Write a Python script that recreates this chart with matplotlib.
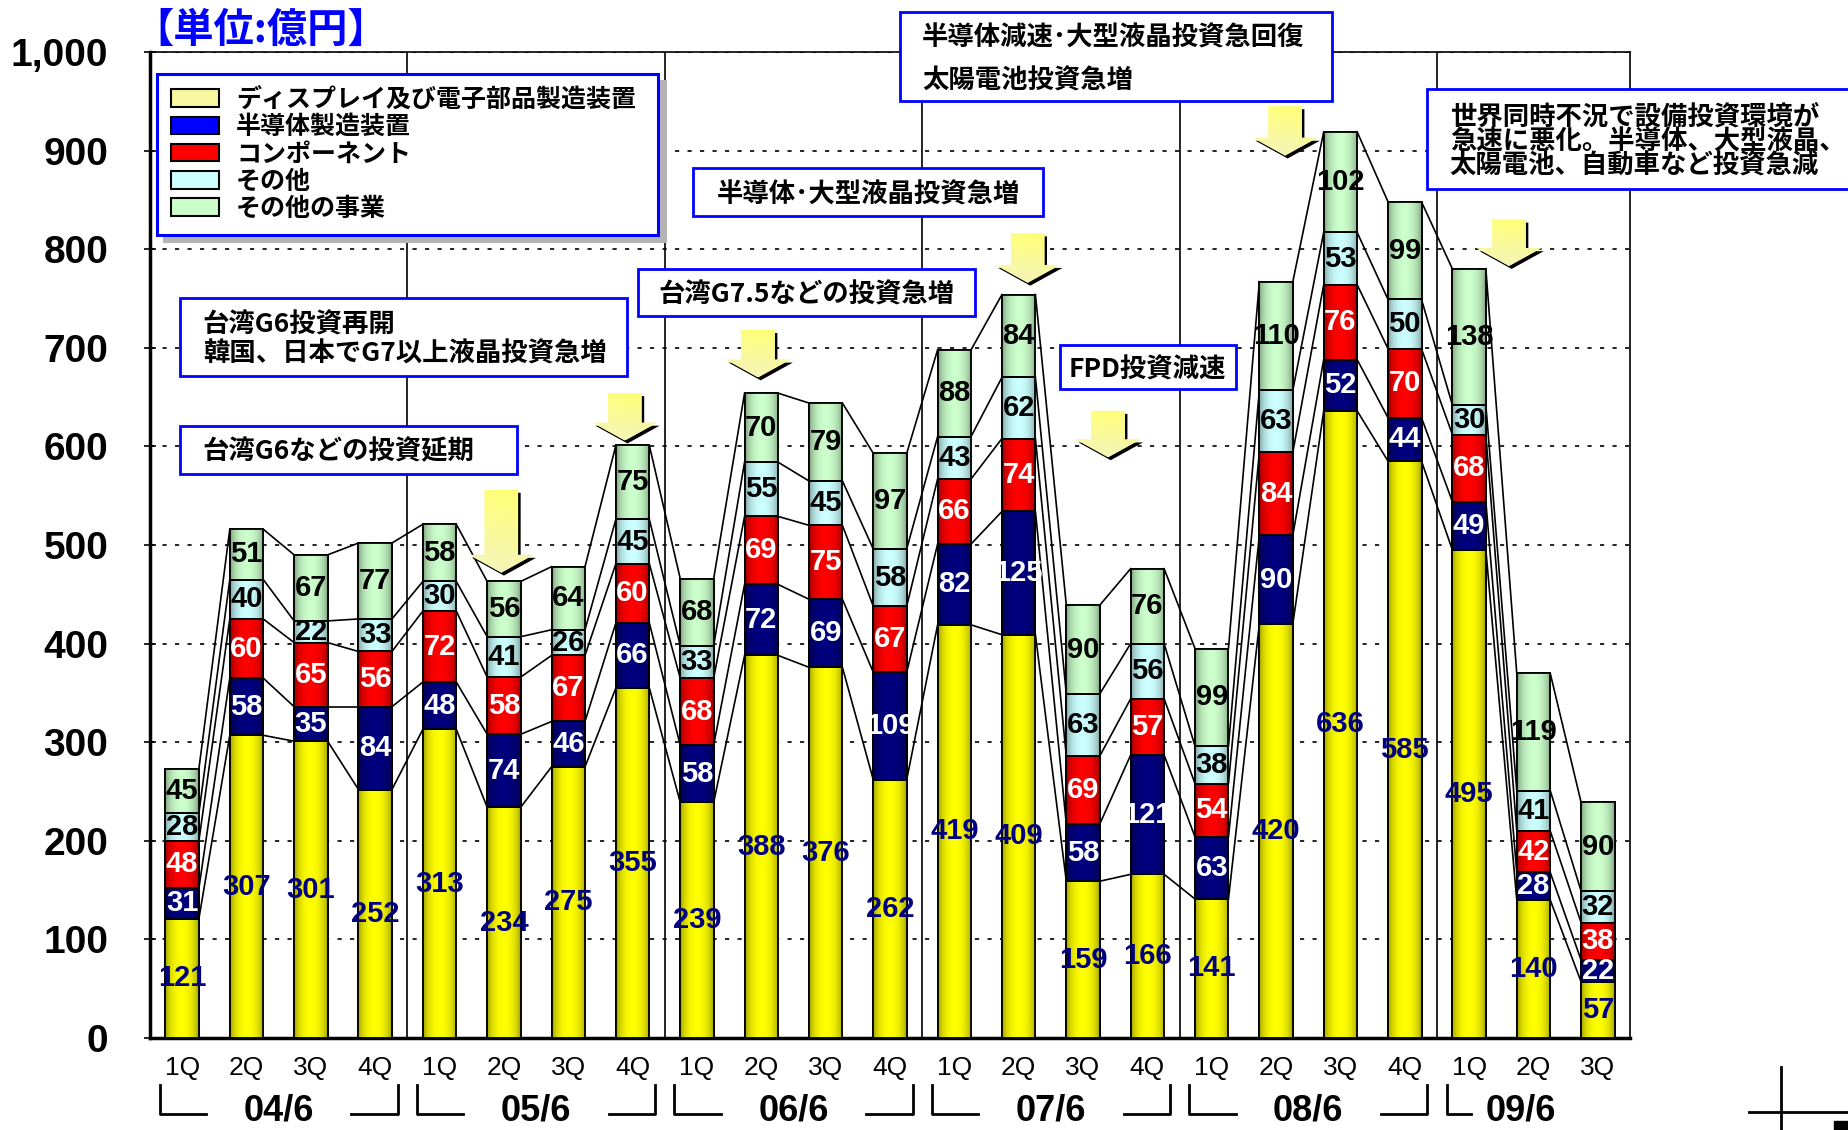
import numpy as np
import matplotlib
matplotlib.use('Agg')
import matplotlib.pyplot as plt
from matplotlib.colors import to_rgb
from matplotlib.patches import Patch, Polygon, Rectangle
from matplotlib.lines import Line2D

plt.rcParams['font.family'] = ['Liberation Sans', 'Noto Sans CJK JP', 'DejaVu Sans']
JP = ['Noto Sans CJK JP', 'DejaVu Sans']

# ---- data (億円) ----
quarters = ['1Q', '2Q', '3Q', '4Q'] * 5 + ['1Q', '2Q', '3Q']
years = ['04/6', '05/6', '06/6', '07/6', '08/6', '09/6']
year_sizes = [4, 4, 4, 4, 4, 3]

display = [121, 307, 301, 252, 313, 234, 275, 355, 239, 388, 376, 262,
           419, 409, 159, 166, 141, 420, 636, 585, 495, 140, 57]
semi = [31, 58, 35, 84, 48, 74, 46, 66, 58, 72, 69, 109,
        82, 125, 58, 121, 63, 90, 52, 44, 49, 28, 22]
component = [48, 60, 65, 56, 72, 58, 67, 60, 68, 69, 75, 67,
             66, 74, 69, 57, 54, 84, 76, 70, 68, 42, 38]
other = [28, 40, 22, 33, 30, 41, 26, 45, 33, 55, 45, 58,
         43, 62, 63, 56, 38, 63, 53, 50, 30, 41, 32]
other_biz = [45, 51, 67, 77, 58, 56, 64, 75, 68, 70, 79, 97,
             88, 84, 90, 76, 99, 110, 102, 99, 138, 119, 90]

series = [display, semi, component, other, other_biz]
names = ['ディスプレイ及び電子部品製造装置', '半導体製造装置', 'コンポーネント', 'その他', 'その他の事業']
colors = ['#ffff00', '#000080', '#ff0000', '#ccffff', '#ccffcc']
legend_colors = ['#f8f8a0', '#0000ff', '#ff0000', '#ccffff', '#ccffcc']
text_colors = ['#000080', 'white', 'white', 'black', 'black']

fig = plt.figure(figsize=(18.49, 11.30), dpi=100)
ax = fig.add_axes([150 / 1849, 1 - 1038 / 1130, 1480 / 1849, 986 / 1130])

x = np.arange(len(quarters))
w = 0.52
prof = 0.55 + 0.45 * np.sin(np.linspace(0, np.pi, 48)) ** 0.5


def shade_bar(patch, color):
    rgb = np.array(to_rgb(color))
    img = (prof[:, None] * rgb)[None, :, :]
    x0, y0 = patch.get_xy()
    im = ax.imshow(img, extent=[x0, x0 + patch.get_width(), y0, y0 + patch.get_height()],
                   aspect='auto', interpolation='bilinear', zorder=3.1)
    im.set_clip_path(patch)
    ax.add_patch(Rectangle((x0, y0), patch.get_width(), patch.get_height(), fill=False,
                           ec='black', lw=1.3, zorder=3.2))


bottom = np.zeros(len(x))
tops = []
for vals, col, tcol in zip(series, colors, text_colors):
    vals = np.array(vals)
    bars = ax.bar(x, vals, w, bottom=bottom, color=col, edgecolor='black', lw=1.3, zorder=3)
    for b in bars:
        shade_bar(b, col)
    for xi, v, b0 in zip(x, vals, bottom):
        ax.text(xi, b0 + v / 2, str(v), ha='center', va='center', fontsize=21,
                fontweight='bold', color=tcol, zorder=5)
    bottom = bottom + vals
    tops.append(bottom.copy())

# series lines between bars
for top in tops:
    for i in range(len(x) - 1):
        ax.plot([x[i] + w / 2, x[i + 1] - w / 2], [top[i], top[i + 1]],
                color='black', lw=1.2, zorder=2)

# fiscal-year separators
edges = np.cumsum(year_sizes)[:-1] - 0.5
for e in edges:
    ax.axvline(e, color='black', lw=1.2, zorder=1)

ax.set_xlim(-0.5, len(x) - 0.5)
ax.set_ylim(0, 1000)
ax.set_yticks(range(0, 1001, 100))
ax.set_yticklabels([f'{v:,}' for v in range(0, 1001, 100)])
ax.yaxis.grid(True, linestyle=(0, (2.5, 5)), color='black', lw=1.2)
ax.set_axisbelow(True)
ax.tick_params(axis='y', direction='inout', length=8, width=1.2, labelsize=28, pad=26)
for lab in ax.get_yticklabels():
    lab.set_fontweight('bold')
ax.set_xticks(x, quarters)
ax.tick_params(axis='x', length=0, labelsize=19, pad=13)
for s in ['left', 'bottom']:
    ax.spines[s].set_linewidth(2.5)
for s in ['top', 'right']:
    ax.spines[s].set_linewidth(1.2)

# year group labels and brackets
tr = ax.get_xaxis_transform()
start = 0
for k, (yr, n) in enumerate(zip(years, year_sizes)):
    lo = start - 0.5
    hi = start + n - 0.5
    arm = 0.72 if n == 4 else 0.38
    ax.plot([lo + 0.15, lo + 0.15, lo + 0.15 + arm], [-0.048, -0.077, -0.077],
            transform=tr, color='black', lw=2, clip_on=False)
    if n == 4:
        ax.plot([hi - 0.15 - arm, hi - 0.15, hi - 0.15], [-0.077, -0.077, -0.048],
                transform=tr, color='black', lw=2, clip_on=False)
    cx = start + (n - 1) / 2 if n == 4 else start + (n - 1) / 2 - 0.2
    ax.text(cx, -0.0835, yr, transform=tr, ha='center', va='baseline',
            fontsize=26, fontweight='bold', clip_on=False)
    start += n

# legend
handles = [Patch(facecolor=c, edgecolor='black', linewidth=1.5) for c in legend_colors]
leg = ax.legend(handles, names, loc='upper left', bbox_to_anchor=(0.005, 0.978, 0.338, 0.0),
                mode='expand', prop={'family': JP, 'weight': 'bold', 'size': 18},
                frameon=True, fancybox=False, edgecolor='#0000ff', framealpha=1,
                shadow={'ox': 5, 'oy': -5, 'color': '#b4b4b4', 'alpha': 1},
                borderpad=0.55, labelspacing=0.13, handlelength=1.9, handleheight=0.7,
                handletextpad=0.7, borderaxespad=0)
leg.get_frame().set_linewidth(2.2)
leg.set_zorder(8)


# annotation boxes
def note_box(x0, x1, y0, y1, lines, tx, tys, ha='left'):
    ax.add_patch(Rectangle((x0, y0), x1 - x0, y1 - y0, fc='white', ec='#0000ff', lw=2,
                           zorder=6, clip_on=False))
    for line, ty in zip(lines, tys):
        ax.text(tx, ty - 3, line, ha=ha, va='center', fontsize=19, fontweight='bold',
                family=JP, zorder=7, clip_on=False)


note_box(11.15, 17.87, 950, 1041, ['半導体減速･大型液晶投資急回復', '太陽電池投資急増'], 11.5, [1017, 974])
note_box(19.35, 25.9, 861, 962, ['世界同時不況で設備投資環境が', '急速に悪化。半導体、大型液晶、',
                                 '太陽電池、自動車など投資急減'], 19.7, [937, 912, 887])
note_box(7.94, 13.38, 834, 882, ['半導体･大型液晶投資急増'], 10.66, [858], ha='center')
note_box(7.08, 12.32, 732, 780, ['台湾G7.5などの投資急増'], 9.7, [756], ha='center')
note_box(-0.04, 6.92, 671, 751, ['台湾G6投資再開', '韓国、日本でG7以上液晶投資急増'], 0.32, [726, 697])
note_box(-0.04, 5.2, 572, 621, ['台湾G6などの投資延期'], 0.32, [598])
note_box(13.64, 16.37, 658, 703, ['FPD投資減速'], 15.0, [680], ha='center')

# yellow down arrows (x, top, tip)
arrows = [(4.96, 556, 472), (6.88, 654, 606), (8.95, 718, 670), (13.14, 816, 766),
          (14.39, 636, 589), (17.14, 945, 895), (20.62, 830, 783)]
yy = np.linspace(0, 1, 40)[:, None]
xx = np.linspace(0, 1, 40)[None, :]
grad = np.dstack([np.ones((40, 40)) * (1 - 0.04 * yy),
                  np.ones((40, 40)) * (1 - 0.04 * yy),
                  0.5 + 0.25 * yy - 0.05 * xx])
for cx, yt, yp in arrows:
    hh, sw, hw = 18, 0.26, 0.5
    pts = np.array([(cx - sw, yt), (cx + sw, yt), (cx + sw, yp + hh), (cx + hw, yp + hh),
                    (cx, yp), (cx - hw, yp + hh), (cx - sw, yp + hh)])
    ax.add_patch(Polygon(pts + [0.04, -3], closed=True, fc='black', ec='none', zorder=6))
    body = Polygon(pts, closed=True, fc='#fbfb9c', ec='none', zorder=6.1)
    ax.add_patch(body)
    im = ax.imshow(np.clip(grad, 0, 1), extent=[cx - hw, cx + hw, yp, yt], aspect='auto', zorder=6.2)
    im.set_clip_path(body)

ax.set_xlim(-0.5, len(x) - 0.5)
ax.set_ylim(0, 1000)

# unit title and corner marks
fig.text(0.072, 0.973, '【単位:億円】', color='#0000ff', fontsize=29, fontweight='bold',
         family=JP, va='center', ha='left')
fig.add_artist(Line2D([0.963, 0.963], [0, 0.056], transform=fig.transFigure, color='black', lw=2))
fig.add_artist(Line2D([0.946, 1.0], [0.016, 0.016], transform=fig.transFigure, color='black', lw=2))
fig.add_artist(Rectangle((0.992, 0), 0.008, 0.008, transform=fig.transFigure, color='black'))

fig.savefig('out.png', dpi=100)
